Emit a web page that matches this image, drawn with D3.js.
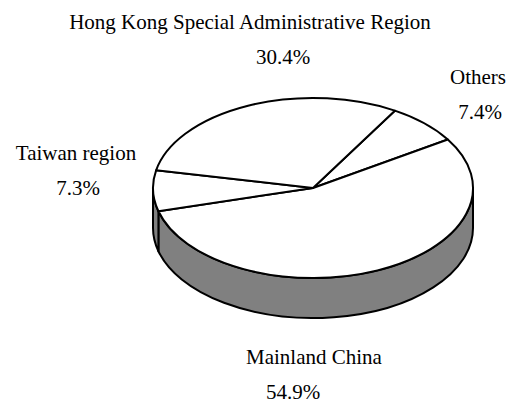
<!DOCTYPE html>
<html>
<head>
<meta charset="utf-8">
<script src="https://cdn.jsdelivr.net/npm/d3@7"></script>
</head>
<body style="margin:0; background:#fff">
<div id="chart"></div>
<script>
// slice order clockwise, starting from the Others slice
var categories = ['Others', 'Mainland China', 'Taiwan region', 'Hong Kong Special Administrative Region'];
var shares = [7.4, 54.9, 7.3, 30.4];
var labels = ['7.4%', '54.9%', '7.3%', '30.4%'];

var width = 515, height = 410;
var cx = 313, cy = 188, rx = 160, ry = 90, depth = 40;

var svg = d3.select('#chart').append('svg')
    .attr('width', width)
    .attr('height', height);

var startAngle = 0.537;
var pie = d3.pie().sort(null)
    .startAngle(startAngle)
    .endAngle(startAngle + 2 * Math.PI);

var slices = pie(shares);

function px(a) { return cx + rx * Math.sin(a); }
function py(a, dy) { return cy - ry * Math.cos(a) + (dy || 0); }

function arcTo(a0, a1, dy) {
  var large = (a1 - a0) > Math.PI ? 1 : 0;
  return 'A' + rx + ',' + ry + ' 0 ' + large + ' 1 ' + px(a1) + ',' + py(a1, dy);
}
function arcBack(a1, a0, dy) {
  var large = (a1 - a0) > Math.PI ? 1 : 0;
  return 'A' + rx + ',' + ry + ' 0 ' + large + ' 0 ' + px(a0) + ',' + py(a0, dy);
}

// side walls, only the front half (pi/2 .. 3pi/2) is visible
var sides = [];
slices.forEach(function(d) {
  var a0 = Math.max(d.startAngle, Math.PI / 2);
  var a1 = Math.min(d.endAngle, 3 * Math.PI / 2);
  if (a1 > a0) sides.push({a0: a0, a1: a1});
});

svg.selectAll('path.side')
  .data(sides)
  .enter().append('path')
  .attr('class', 'side')
  .attr('d', function(d) {
    return 'M' + px(d.a0) + ',' + py(d.a0) + arcTo(d.a0, d.a1) +
      'L' + px(d.a1) + ',' + py(d.a1, depth) + arcBack(d.a1, d.a0, depth) + 'Z';
  })
  .attr('fill', '#808080')
  .attr('stroke', '#000')
  .attr('stroke-width', 2)
  .attr('stroke-linejoin', 'round');

svg.selectAll('path.top')
  .data(slices)
  .enter().append('path')
  .attr('class', 'top')
  .attr('d', function(d) {
    return 'M' + cx + ',' + cy + 'L' + px(d.startAngle) + ',' + py(d.startAngle) +
      arcTo(d.startAngle, d.endAngle) + 'Z';
  })
  .attr('fill', '#fff')
  .attr('stroke', '#000')
  .attr('stroke-width', 2)
  .attr('stroke-linejoin', 'round');

// label anchor points (name line, value line)
var labelPos = [
  {x: 478, y: 84, vx: 480},
  {x: 314, y: 364, vx: 293},
  {x: 76, y: 160, vx: 78},
  {x: 250, y: 29, vx: 283}
];

function serif(sel) {
  sel.attr('font-family', 'Liberation Serif')
    .attr('font-size', 21)
    .style('font-family', '"Liberation Serif", serif', 'important')
    .style('font-size', '21px', 'important')
    .attr('fill', '#000')
    .attr('text-anchor', 'middle');
}

svg.selectAll('text.name')
  .data(slices)
  .enter().append('text')
  .attr('class', 'name')
  .attr('x', function(d, i) { return labelPos[i].x; })
  .attr('y', function(d, i) { return labelPos[i].y; })
  .call(serif)
  .text(function(d, i) { return categories[i]; });

svg.selectAll('text.value')
  .data(slices)
  .enter().append('text')
  .attr('class', 'value')
  .attr('x', function(d, i) { return labelPos[i].vx; })
  .attr('y', function(d, i) { return labelPos[i].y + 35; })
  .call(serif)
  .text(function(d, i) { return labels[i]; });
</script>
</body>
</html>
